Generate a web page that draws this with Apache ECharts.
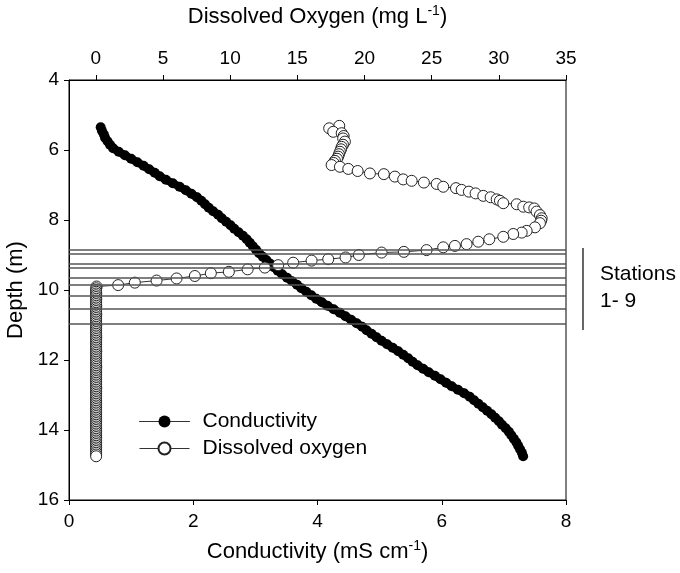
<!DOCTYPE html>
<html><head><meta charset="utf-8">
<script src="https://cdn.jsdelivr.net/npm/echarts@6/dist/echarts.min.js"></script>
<style>html,body{margin:0;padding:0;background:#fff}#c{width:680px;height:573px}</style>
</head><body><div id="c"></div>
<script>
// Conductivity profile (mS cm-1) vs depth (m)
const condDepth = [5.35,5.45,5.55,5.65,5.75,5.85,5.95,6.05,6.15,6.25,6.35,6.45,6.55,6.65,6.75,6.85,6.95,7.05,7.15,7.25,7.35,7.45,7.55,7.65,7.75,7.85,7.95,8.05,8.15,8.25,8.35,8.45,8.55,8.65,8.75,8.85,8.95,9.05,9.15,9.25,9.35,9.45,9.55,9.65,9.75,9.85,9.95,10.05,10.15,10.25,10.35,10.45,10.55,10.65,10.75,10.85,10.95,11.05,11.15,11.25,11.35,11.45,11.55,11.65,11.75,11.85,11.95,12.05,12.15,12.25,12.35,12.45,12.55,12.65,12.75,12.85,12.95,13.05,13.15,13.25,13.35,13.45,13.55,13.65,13.75,13.85,13.95,14.05,14.15,14.25,14.35,14.45,14.55,14.65,14.75];
const condValue = [0.51,0.53,0.56,0.58,0.62,0.66,0.71,0.80,0.90,1.00,1.10,1.20,1.29,1.38,1.46,1.56,1.67,1.78,1.88,1.97,2.06,2.13,2.19,2.25,2.32,2.40,2.46,2.53,2.60,2.66,2.73,2.80,2.86,2.91,2.96,3.01,3.06,3.12,3.18,3.24,3.30,3.36,3.43,3.51,3.59,3.67,3.74,3.82,3.90,3.98,4.07,4.16,4.26,4.36,4.45,4.54,4.63,4.72,4.79,4.87,4.95,5.03,5.12,5.21,5.30,5.38,5.46,5.53,5.61,5.70,5.79,5.89,5.98,6.07,6.16,6.26,6.36,6.45,6.52,6.59,6.66,6.73,6.80,6.86,6.92,6.97,7.03,7.08,7.12,7.16,7.20,7.23,7.26,7.29,7.31];

// Dissolved oxygen profile (mg L-1) vs depth (m)
const doDepth = [5.31,5.38,5.48,5.52,5.60,5.67,5.76,5.85,5.91,5.98,6.05,6.12,6.19,6.25,6.31,6.37,6.43,6.48,6.54,6.60,6.67,6.69,6.76,6.84,6.88,6.93,6.97,7.05,7.09,7.14,7.19,7.24,7.31,7.35,7.41,7.45,7.52,7.55,7.62,7.64,7.67,7.76,7.86,7.95,8.02,8.09,8.21,8.31,8.36,8.40,8.48,8.55,8.62,8.69,8.74,8.78,8.86,8.91,8.93,9.00,9.07,9.12,9.16,9.22,9.29,9.36,9.41,9.48,9.52,9.60,9.67,9.73,9.79,9.86,
  9.90,9.95,10.00,10.05,10.10,10.15,10.20,10.25,10.30,10.35,10.40,10.45,10.50,10.55,10.60,10.65,10.70,10.75,10.80,10.85,10.90,10.95,11.00,11.05,11.10,11.15,11.20,11.25,11.30,11.35,11.40,11.45,11.50,11.55,11.60,11.65,11.70,11.75,11.80,11.85,11.90,11.95,12.00,12.05,12.10,12.15,12.20,12.25,12.30,12.35,12.40,12.45,12.50,12.55,12.60,12.65,12.70,12.75,12.80,12.85,12.90,12.95,13.00,13.05,13.10,13.15,13.20,13.25,13.30,13.35,13.40,13.45,13.50,13.55,13.60,13.65,13.70,13.75,13.80,13.85,13.90,13.95,14.00,14.05,14.10,14.15,14.20,14.25,14.30,14.35,14.40,14.45,14.50,14.55,14.60,14.65,14.70,14.75];
const doValue = [18.12,17.37,17.67,18.30,18.45,18.41,18.54,18.40,18.30,18.25,18.17,18.10,18.04,17.95,17.80,17.70,17.55,18.17,18.79,19.49,20.40,21.44,22.26,22.88,23.51,24.42,25.37,25.86,26.81,27.23,27.77,28.27,28.84,29.39,29.84,30.08,30.33,31.33,31.82,32.26,32.64,32.81,33.06,33.19,33.15,33.06,32.69,32.07,31.70,31.07,30.33,29.29,28.47,27.60,26.73,25.86,24.62,22.93,21.27,19.58,18.59,17.30,16.06,14.69,13.57,12.58,11.30,9.90,8.56,7.37,6.01,4.52,2.90,1.66,
  0.05,0.03,0.02,0.02,0.03,0.02,0.02,0.03,0.02,0.02,0.02,0.03,0.02,0.02,0.02,0.02,0.03,0.02,0.02,0.02,0.02,0.02,0.03,0.02,0.02,0.02,0.02,0.02,0.02,0.03,0.02,0.02,0.02,0.02,0.02,0.02,0.02,0.03,0.02,0.02,0.02,0.02,0.02,0.02,0.02,0.02,0.03,0.02,0.02,0.02,0.02,0.02,0.02,0.02,0.02,0.02,0.02,0.02,0.03,0.02,0.02,0.02,0.02,0.02,0.02,0.02,0.02,0.02,0.02,0.02,0.02,0.02,0.02,0.02,0.02,0.02,0.02,0.02,0.02,0.02,0.02,0.02,0.02,0.02,0.02,0.02,0.02,0.02,0.02,0.02,0.02,0.02,0.02,0.02,0.02,0.02,0.02,0.02];

// Sampling station depths (m)
const stationDepths = [8.86,8.97,9.26,9.37,9.66,9.86,10.17,10.54,10.97];
const stationRange = [8.8, 11.14];

// Tick labels
const doTicks = [0,5,10,15,20,25,30,35];

const FONT = '"Liberation Sans", Arial, Helvetica, sans-serif';
const chart = echarts.init(document.getElementById('c'), null, {renderer:'canvas'});

const condData = condDepth.map((d,i)=>[condValue[i], d]);
const doData = doDepth.map((d,i)=>[doValue[i], d]);

const tickLabel = {color:'#000', fontSize:19, fontFamily:FONT};
const richName = {t:{fontSize:22, fontFamily:FONT, color:'#000', lineHeight:26}, s:{fontSize:14, fontFamily:FONT, color:'#000', verticalAlign:'top', lineHeight:15}};

chart.setOption({
  animation:false,
  backgroundColor:'#fff',
  grid:{left:69, right:114, top:80, bottom:73, show:true, borderColor:'#000', borderWidth:1, containLabel:false, outerBoundsMode:'none'},
  legend:{
    data:['Conductivity','Dissolved oxygen'],
    orient:'vertical', left:139, top:411, padding:0,
    itemWidth:50, itemHeight:15, itemGap:6,
    lineStyle:{width:1, color:'#333'},
    textStyle:{color:'#000', fontSize:21, fontFamily:FONT, padding:[0,0,0,8]}
  },
  xAxis:[
    {type:'value', position:'bottom', min:0, max:8, interval:2,
     axisLine:{show:true, lineStyle:{color:'#000', width:1}},
     axisTick:{show:true, length:5, lineStyle:{color:'#000'}},
     axisLabel:Object.assign({margin:12}, tickLabel),
     splitLine:{show:false},
     name:'{t|Conductivity (mS cm}{s|-1}{t|)}', nameLocation:'middle', nameGap:39,
     nameTextStyle:{rich:richName}
    },
    {type:'value', position:'top', min:-2, max:35,
     axisLine:{show:true, lineStyle:{color:'#000', width:1}},
     axisTick:{show:true, length:5, lineStyle:{color:'#000'}, customValues:doTicks},
     axisLabel:Object.assign({margin:12, customValues:doTicks}, tickLabel),
     splitLine:{show:false},
     name:'{t|Dissolved Oxygen (mg L}{s|-1}{t|)}', nameLocation:'middle', nameGap:50,
     nameTextStyle:{rich:richName}
    }
  ],
  yAxis:[
    {type:'value', inverse:true, min:4, max:16, interval:2,
     axisLine:{show:true, lineStyle:{color:'#000', width:1}},
     axisTick:{show:true, length:5, lineStyle:{color:'#000'}},
     axisLabel:Object.assign({margin:10}, tickLabel),
     splitLine:{show:false},
     name:'Depth (m)', nameLocation:'middle', nameGap:40, nameRotate:90,
     nameTextStyle:{fontSize:22, fontFamily:FONT, color:'#000'}
    }
  ],
  series:[
    {name:'stations', type:'line', xAxisIndex:0, yAxisIndex:0, data:[], silent:true, z:1,
     markLine:{silent:true, symbol:['none','none'], label:{show:false},
       lineStyle:{color:'#555', width:1.5, type:'solid'},
       data:stationDepths.map(d=>({yAxis:d}))}
    },
    {name:'Conductivity', type:'line', xAxisIndex:0, yAxisIndex:0, data:condData,
     symbol:'circle', symbolSize:10, showAllSymbol:true, z:3,
     lineStyle:{color:'#000', width:8, cap:'round', join:'round'},
     itemStyle:{color:'#000', borderColor:'#000', borderWidth:0}
    },
    {name:'Dissolved oxygen', type:'line', xAxisIndex:1, yAxisIndex:0, data:doData,
     symbol:'circle', symbolSize:11, showAllSymbol:true, z:4,
     lineStyle:{color:'#333', width:1},
     itemStyle:{color:'#fff', borderColor:'#222', borderWidth:1}
    }
  ]
});

// Stations bracket annotation right of the plot
const y1 = chart.convertToPixel({yAxisIndex:0}, stationRange[0]);
const y2 = chart.convertToPixel({yAxisIndex:0}, stationRange[1]);
const bx = 583;
chart.setOption({
  graphic:[
    {type:'line', shape:{x1:bx, y1:y1, x2:bx, y2:y2}, style:{stroke:'#000', lineWidth:1.2}},
    {type:'text', left:600, top:(y1+y2)/2 - 28, style:{text:'Stations\n1- 9', fill:'#000', font:'21px ' + FONT, lineHeight:27}}
  ]
});
</script>
</body></html>
